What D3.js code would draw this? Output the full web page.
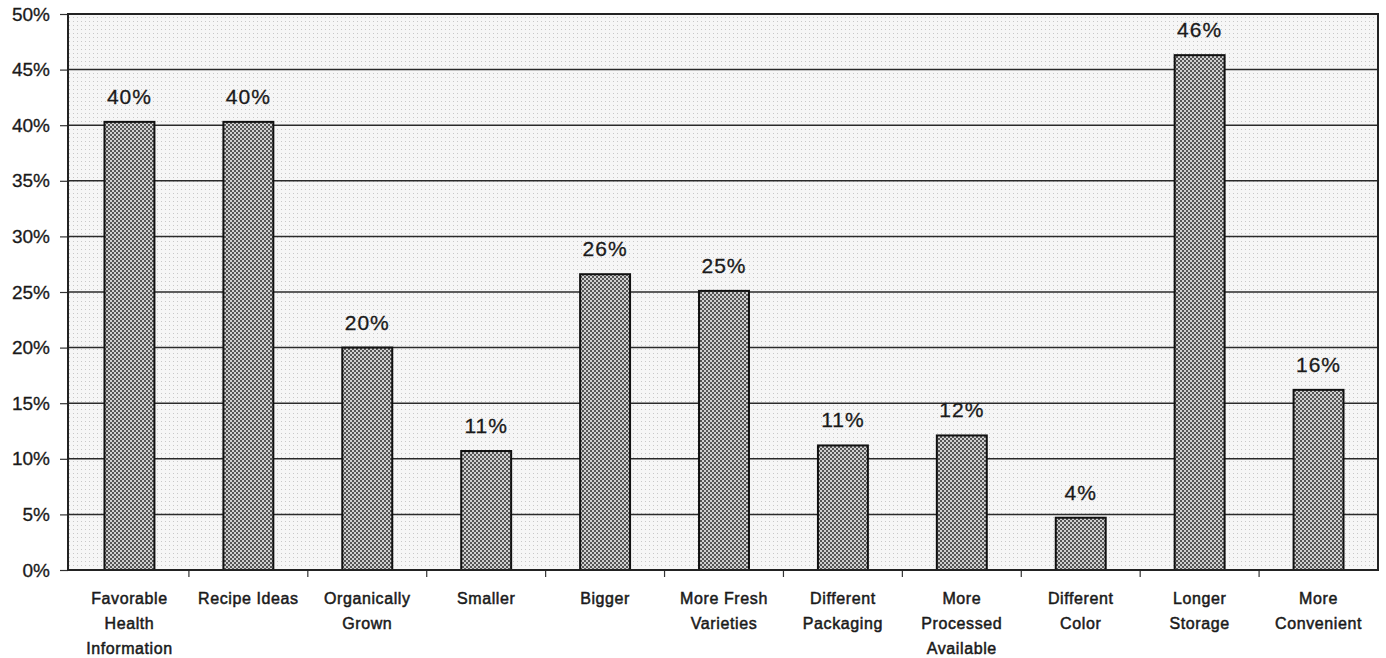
<!DOCTYPE html>
<html>
<head>
<meta charset="utf-8">
<script src="https://cdn.jsdelivr.net/npm/d3@7"></script>
<style>
	body { margin: 0; background: #fff; }
	text { font-family: Arial, "Liberation Sans", sans-serif; fill: #1a1a1a; }
</style>
</head>
<body>
<svg id="svg" width="1386" height="658"></svg>
<script>
const width = 1386;
const height = 658;

const categories = [
	['Favorable', 'Health', 'Information'],
	['Recipe Ideas'],
	['Organically', 'Grown'],
	['Smaller'],
	['Bigger'],
	['More Fresh', 'Varieties'],
	['Different', 'Packaging'],
	['More', 'Processed', 'Available'],
	['Different', 'Color'],
	['Longer', 'Storage'],
	['More', 'Convenient']
];
const values = [40.3, 40.3, 20.0, 10.7, 26.6, 25.1, 11.2, 12.1, 4.7, 46.3, 16.2];
const valueLabels = ['40%', '40%', '20%', '11%', '26%', '25%', '11%', '12%', '4%', '46%', '16%'];
const yTicks = [0, 5, 10, 15, 20, 25, 30, 35, 40, 45, 50];

const plot = { left: 68, right: 1378, top: 14, bottom: 570 };

const svg = d3.select('#svg');
const defs = svg.append('defs');

// light stipple behind the bars
const bgPat = defs.append('pattern')
	.attr('id', 'stipple')
	.attr('width', 4).attr('height', 4)
	.attr('patternUnits', 'userSpaceOnUse');
bgPat.append('rect').attr('width', 4).attr('height', 4).attr('fill', '#f6f6f6');
bgPat.append('rect').attr('x', 1).attr('y', 1).attr('width', 1).attr('height', 1).attr('fill', '#c8c8c8');

// checkered fill of the bars
const barPat = defs.append('pattern')
	.attr('id', 'checker')
	.attr('width', 4).attr('height', 4)
	.attr('patternUnits', 'userSpaceOnUse');
barPat.append('rect').attr('width', 4).attr('height', 4).attr('fill', '#d0d0d0');
barPat.append('rect').attr('width', 2).attr('height', 2).attr('fill', '#555');
barPat.append('rect').attr('x', 2).attr('y', 2).attr('width', 2).attr('height', 2).attr('fill', '#555');

const xScale = d3.scaleBand()
	.domain(d3.range(categories.length))
	.range([plot.left + 2, plot.right])
	.paddingInner(0.58)
	.paddingOuter(0.29);

const yScale = d3.scaleLinear()
	.domain([0, 50])
	.range([plot.bottom, plot.top]);

const gap = (xScale.step() - xScale.bandwidth()) / 2;

svg.append('rect')
	.attr('x', plot.left)
	.attr('y', plot.top)
	.attr('width', plot.right - plot.left)
	.attr('height', plot.bottom - plot.top)
	.attr('fill', 'url(#stipple)');

// grid lines
svg.append('g')
	.selectAll('line')
	.data(yTicks.slice(1, -1))
	.enter()
	.append('line')
	.attr('x1', plot.left)
	.attr('x2', plot.right)
	.attr('y1', d => yScale(d))
	.attr('y2', d => yScale(d))
	.attr('stroke', '#2a2a2a')
	.attr('stroke-width', 1.5);

// y axis
const yAxis = d3.axisLeft(yScale)
	.tickValues(yTicks)
	.tickFormat(d => d + '%')
	.tickSize(8)
	.tickPadding(10);

const yG = svg.append('g')
	.attr('transform', 'translate(' + plot.left + ',0)')
	.call(yAxis);
yG.select('.domain').remove();
yG.selectAll('.tick line').attr('stroke', '#333').attr('stroke-width', 1.2);
yG.selectAll('.tick text')
	.style('font-size', '19px')
	.attr('fill', '#1a1a1a')
	.attr('stroke', '#1a1a1a')
	.attr('stroke-width', 0.3);

// x axis ticks between categories
svg.append('g')
	.selectAll('line')
	.data(d3.range(1, categories.length))
	.enter()
	.append('line')
	.attr('x1', i => xScale(i) - gap)
	.attr('x2', i => xScale(i) - gap)
	.attr('y1', plot.bottom)
	.attr('y2', plot.bottom + 7)
	.attr('stroke', '#333')
	.attr('stroke-width', 1.2);

// bars
svg.append('g')
	.selectAll('rect')
	.data(values)
	.enter()
	.append('rect')
	.attr('x', (d, i) => xScale(i))
	.attr('y', d => yScale(d))
	.attr('width', xScale.bandwidth())
	.attr('height', d => yScale(0) - yScale(d))
	.attr('fill', 'url(#checker)')
	.attr('stroke', '#111')
	.attr('stroke-width', 2);

// value labels
svg.append('g')
	.selectAll('text')
	.data(values)
	.enter()
	.append('text')
	.attr('x', (d, i) => xScale(i) + xScale.bandwidth() / 2)
	.attr('y', d => yScale(d) - 18)
	.attr('text-anchor', 'middle')
	.style('font-size', '21px')
	.style('letter-spacing', '1px')
	.attr('stroke', '#1a1a1a')
	.attr('stroke-width', 0.3)
	.text((d, i) => valueLabels[i]);

// frame
svg.append('rect')
	.attr('x', plot.left)
	.attr('y', plot.top)
	.attr('width', plot.right - plot.left)
	.attr('height', plot.bottom - plot.top)
	.attr('fill', 'none')
	.attr('stroke', '#222')
	.attr('stroke-width', 2);

// category labels
const catG = svg.append('g')
	.selectAll('text')
	.data(categories)
	.enter()
	.append('text')
	.attr('x', (d, i) => xScale(i) + xScale.bandwidth() / 2)
	.attr('y', 604)
	.attr('text-anchor', 'middle')
	.style('font-size', '16px')
	.style('letter-spacing', '0.6px')
	.attr('stroke', '#1a1a1a')
	.attr('stroke-width', 0.5);

catG.selectAll('tspan')
	.data(d => d)
	.enter()
	.append('tspan')
	.attr('x', function () { return d3.select(this.parentNode).attr('x'); })
	.attr('dy', (d, i) => i === 0 ? 0 : 25)
	.text(d => d);
</script>
</body>
</html>
